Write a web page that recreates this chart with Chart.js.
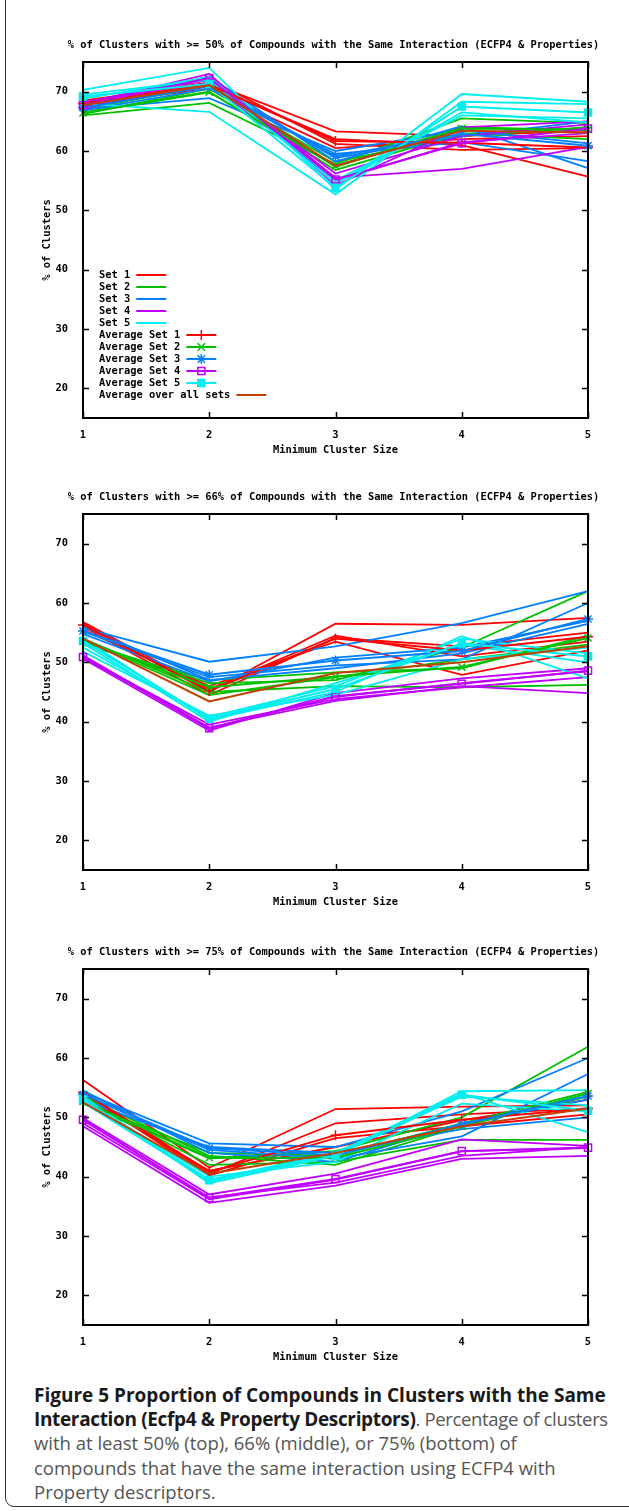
<!DOCTYPE html>
<html>
<head>
<meta charset="utf-8">
<script src="https://cdn.jsdelivr.net/npm/chart.js@4.4.1/dist/chart.umd.min.js"></script>
<style>
  body { margin: 0; background: #fff; width: 629px; height: 1511px; overflow: hidden; position: relative; }
  .frame { position: absolute; left: 5px; top: -30px; width: 700px; height: 1537px; border: 1.5px solid #333; border-radius: 9px; box-sizing: border-box; }
  .plot { position: absolute; left: 0; width: 629px; height: 458px; }
  #caption { position: absolute; left: 34px; top: 1383px; font-family: "Open Sans", Lato, sans-serif; font-size: 18.5px; line-height: 24.2px; color: #555; white-space: nowrap; }
  #caption b { color: #1a1a1a; font-size: 19px; }
  #caption .tight { letter-spacing: -0.35px; }
</style>
</head>
<body>
<div class="frame"></div>
<div class="plot" style="top:0px"><canvas id="c50" width="629" height="458"></canvas></div>
<div class="plot" style="top:452px"><canvas id="c66" width="629" height="458"></canvas></div>
<div class="plot" style="top:907px"><canvas id="c75" width="629" height="458"></canvas></div>
<div id="caption"><b>Figure 5 Proportion of Compounds in Clusters with the Same</b><br><span class="tight"><b>Interaction (Ecfp4 &amp; Property Descriptors)</b>. Percentage of clusters</span><br>with at least 50% (top), 66% (middle), or 75% (bottom) of<br>compounds that have the same interaction using ECFP4 with<br>Property descriptors.</div>

<script>
// x categories and y ticks
const clusterSizes = ["1", "2", "3", "4", "5"];
const yTicks = [20, 30, 40, 50, 60, 70];
const setNames = ["Set 1", "Set 2", "Set 3", "Set 4", "Set 5"];
const setColors = ["#ff0000", "#00c000", "#0080ff", "#c000ff", "#00eeee"];
const allColor = "#c04000";
const avgMarkers = ["cross", "crossRot", "star", "rect", "rect"];

// >= 50% : runs per set
const s50_set1 = [[68.5, 71.5, 63.3, 62.5, 63.5], [67.5, 71.0, 62.0, 61.0, 55.7], [68.0, 72.0, 61.2, 60.2, 60.5], [67.8, 70.5, 60.5, 62.0, 62.5]];
const s50_set2 = [[66.0, 68.1, 57.8, 65.5, 64.7], [66.5, 70.0, 56.8, 63.0, 62.0], [67.0, 71.0, 57.3, 64.0, 63.5], [66.2, 70.5, 58.2, 62.5, 64.0]];
const s50_set3 = [[67.0, 68.9, 60.0, 63.5, 61.3], [68.0, 72.5, 58.2, 64.2, 57.1], [66.8, 70.5, 59.5, 61.5, 58.3], [67.5, 71.5, 58.8, 62.5, 65.0]];
const s50_set4 = [[67.0, 72.5, 55.5, 57.0, 60.7], [68.0, 73.0, 54.2, 64.0, 65.0], [67.5, 71.5, 55.0, 61.5, 63.0], [68.2, 72.0, 56.2, 62.5, 64.5]];
const s50_set5 = [[70.3, 74.0, 53.5, 69.6, 68.3], [68.0, 66.6, 52.7, 68.3, 67.9], [69.5, 72.0, 54.5, 66.5, 64.8], [68.8, 72.5, 55.0, 66.0, 65.5]];
const s50_avg = [[68.0, 71.2, 61.7, 61.4, 60.6], [66.4, 69.9, 57.5, 63.8, 63.6], [67.3, 70.9, 59.1, 62.9, 60.9], [67.7, 72.3, 55.2, 61.3, 63.8], [69.2, 71.3, 53.8, 67.5, 66.5]];
const s50_all = [67.7, 71.1, 57.5, 63.4, 63.1];

// >= 66%
const s66_set1 = [[56.6, 45.0, 56.5, 56.3, 57.5], [56.0, 44.5, 54.1, 52.7, 55.0], [55.5, 46.0, 53.5, 47.9, 52.0], [56.8, 45.5, 54.5, 51.0, 53.5]];
const s66_set2 = [[53.5, 46.5, 47.0, 52.5, 62.0], [54.0, 45.0, 46.0, 45.8, 46.2], [53.0, 47.0, 48.3, 49.0, 54.5], [53.8, 44.5, 47.5, 50.5, 53.0]];
const s66_set3 = [[55.8, 50.1, 52.7, 56.6, 62.0], [55.2, 47.5, 49.5, 50.5, 60.0], [54.8, 46.8, 50.8, 52.5, 57.0], [56.0, 47.0, 49.0, 51.5, 56.5]];
const s66_set4 = [[51.0, 39.0, 43.5, 46.0, 44.8], [50.6, 38.5, 44.8, 47.3, 49.0], [50.8, 39.5, 43.8, 45.8, 47.5], [51.2, 38.8, 44.2, 46.5, 48.5]];
const s66_set5 = [[54.0, 40.3, 45.0, 54.4, 47.3], [52.5, 40.8, 46.0, 54.0, 51.5], [51.8, 41.0, 44.5, 50.5, 52.5], [53.2, 40.0, 46.5, 53.0, 50.0]];
const s66_avg = [[56.3, 45.2, 54.0, 52.0, 54.3], [53.6, 45.8, 47.6, 49.2, 54.1], [55.3, 47.9, 50.3, 51.9, 57.3], [50.9, 38.9, 44.3, 46.4, 48.6], [53.6, 40.5, 45.5, 53.2, 51.0]];
const s66_all = [54.0, 43.4, 48.2, 50.0, 52.7];

// >= 75%
const s75_set1 = [[56.3, 41.5, 51.4, 51.8, 52.0], [54.4, 40.5, 49.0, 50.5, 51.5], [54.0, 40.2, 46.5, 48.5, 50.5], [53.5, 41.0, 45.0, 49.5, 53.0]];
const s75_set2 = [[52.3, 43.1, 44.3, 50.0, 61.9], [53.0, 42.0, 42.5, 46.2, 46.2], [52.5, 44.0, 43.5, 49.0, 54.3], [53.5, 43.5, 42.0, 48.5, 53.5]];
const s75_set3 = [[54.2, 45.6, 45.0, 51.0, 60.0], [53.8, 44.5, 43.0, 46.8, 57.3], [53.0, 45.0, 44.0, 48.0, 50.0], [54.5, 44.0, 42.5, 49.0, 53.0]];
const s75_set4 = [[49.9, 37.0, 40.5, 46.3, 45.2], [49.0, 36.2, 39.5, 44.3, 44.8], [48.5, 35.6, 38.5, 43.0, 43.5], [49.5, 36.5, 39.0, 43.5, 45.0]];
const s75_set5 = [[53.5, 38.9, 43.5, 54.4, 54.6], [52.8, 39.5, 44.0, 54.0, 47.5], [53.0, 40.0, 42.5, 52.3, 51.0], [52.5, 39.2, 43.8, 53.5, 52.0]];
const s75_avg = [[54.2, 40.8, 47.0, 49.6, 51.5], [52.7, 43.2, 43.2, 48.5, 54.0], [53.9, 44.8, 43.6, 48.8, 53.6], [49.6, 36.4, 39.6, 44.3, 44.9], [53.0, 39.4, 43.5, 53.8, 51.1]];
const s75_all = [52.5, 40.5, 44.0, 48.5, 51.5];

const FONT = "'DejaVu Sans Mono', monospace";
const GFONT = { family: FONT, size: 10.4, weight: "bold" };

function drawMarker(ctx, style, x, y, r, color, fill) {
  ctx.save();
  ctx.strokeStyle = color;
  ctx.lineWidth = 1.5;
  ctx.beginPath();
  if (style === "cross" || style === "star") {
    ctx.moveTo(x - r, y); ctx.lineTo(x + r, y);
    ctx.moveTo(x, y - r); ctx.lineTo(x, y + r);
  }
  if (style === "crossRot" || style === "star") {
    const d = r * 0.75;
    ctx.moveTo(x - d, y - d); ctx.lineTo(x + d, y + d);
    ctx.moveTo(x - d, y + d); ctx.lineTo(x + d, y - d);
  }
  if (style === "rect") {
    const h = r * Math.SQRT1_2;
    if (fill && fill !== "rgba(0,0,0,0)") { ctx.fillStyle = fill; ctx.fillRect(x - h, y - h, 2 * h, 2 * h); }
    ctx.rect(x - h, y - h, 2 * h, 2 * h);
  }
  ctx.stroke();
  ctx.restore();
}

// gnuplot style border with inward ticks, plus the plot title
const gnuFrame = {
  id: "gnuFrame",
  afterDatasetsDraw(chart, args, opts) {
    const { ctx, chartArea: a, scales: { x, y } } = chart;
    ctx.save();
    ctx.strokeStyle = "#000";
    ctx.lineWidth = 2;
    ctx.strokeRect(a.left, a.top, a.right - a.left, a.bottom - a.top);
    ctx.lineWidth = 1.5;
    ctx.beginPath();
    yTicks.forEach(v => {
      const py = Math.round(y.getPixelForValue(v)) + 0.5;
      ctx.moveTo(a.left, py); ctx.lineTo(a.left + 6, py);
      ctx.moveTo(a.right, py); ctx.lineTo(a.right - 6, py);
    });
    clusterSizes.forEach((c, i) => {
      const px = Math.round(x.getPixelForValue(i)) + 0.5;
      ctx.moveTo(px, a.top); ctx.lineTo(px, a.top + 6);
      ctx.moveTo(px, a.bottom); ctx.lineTo(px, a.bottom - 6);
    });
    ctx.stroke();
    ctx.font = "bold 10.4px " + FONT;
    ctx.fillStyle = "#000";
    ctx.textAlign = "center";
    ctx.textBaseline = "middle";
    ctx.fillText(opts.text, (a.left + a.right) / 2 - 2, opts.y);
    ctx.restore();
  }
};

// key: text first, then sample line
const gnuKey = {
  id: "gnuKey",
  afterDraw(chart, args, opts) {
    if (!opts.show) return;
    const ctx = chart.ctx;
    ctx.save();
    ctx.font = "bold 10.4px " + FONT;
    ctx.textBaseline = "middle";
    let row = 0;
    chart.data.datasets.forEach(d => {
      if (!d.keyEntry) return;
      const ty = opts.y + row * opts.spacing;
      ctx.fillStyle = "#000";
      ctx.fillText(d.label, opts.x, ty);
      const x0 = opts.x + ctx.measureText(d.label).width + 6;
      ctx.strokeStyle = d.borderColor;
      ctx.lineWidth = 2;
      ctx.beginPath();
      ctx.moveTo(x0, ty); ctx.lineTo(x0 + 30, ty);
      ctx.stroke();
      if (d.pointRadius) drawMarker(ctx, d.pointStyle, x0 + 15, ty, d.pointRadius, d.borderColor, d.pointBackgroundColor);
      row++;
    });
    ctx.restore();
  }
};

function buildDatasets(runs, avgs, all) {
  const ds = [];
  runs.forEach((setRuns, s) => {
    setRuns.forEach((vals, k) => ds.push({
      label: setNames[s], keyEntry: k === 0, data: vals,
      borderColor: setColors[s], borderWidth: 1.8, pointRadius: 0
    }));
  });
  avgs.forEach((vals, s) => ds.push({
    label: "Average " + setNames[s], keyEntry: true, data: vals,
    borderColor: setColors[s], borderWidth: 2,
    pointStyle: avgMarkers[s], pointRadius: 5, pointBorderWidth: 1.5,
    pointBorderColor: setColors[s],
    pointBackgroundColor: s === 4 ? setColors[s] : "rgba(0,0,0,0)"
  }));
  ds.push({ label: "Average over all sets", keyEntry: true, data: all, borderColor: allColor, borderWidth: 2, pointRadius: 0 });
  ds.forEach((d, i) => { d.order = -i; d.tension = 0; d.fill = false; });
  return ds;
}

function makeChart(id, titleText, runs, avgs, all, showKey) {
  new Chart(document.getElementById(id), {
    type: "line",
    data: { labels: clusterSizes, datasets: buildDatasets(runs, avgs, all) },
    plugins: [gnuFrame, gnuKey],
    options: {
      responsive: false,
      animation: false,
      events: [],
      layout: { padding: { left: 0, right: 41, top: 62, bottom: 0 } },
      plugins: {
        legend: { display: false },
        tooltip: { enabled: false },
        title: { display: false },
        gnuFrame: { text: titleText, y: 45 },
        gnuKey: { show: showKey, x: 99, y: 275, spacing: 12 }
      },
      scales: {
        x: {
          grid: { display: false }, border: { display: false },
          ticks: { color: "#000", font: GFONT, padding: 3, maxRotation: 0 },
          title: { display: true, text: "Minimum Cluster Size", color: "#000", font: GFONT, padding: { top: 0, bottom: 1.8 } },
          afterFit(s) { s.height = 40; s.paddingLeft = 0; s.paddingRight = 0; }
        },
        y: {
          min: 15, max: 75,
          grid: { display: false }, border: { display: false },
          ticks: { color: "#000", font: GFONT, padding: 7 },
          title: { display: true, text: "% of Clusters", color: "#000", font: GFONT, padding: { top: 41, bottom: 0 } },
          afterBuildTicks(s) { s.ticks = yTicks.map(v => ({ value: v })); },
          afterFit(s) { s.width = 83; s.paddingTop = 0; s.paddingBottom = 0; }
        }
      }
    }
  });
}

makeChart("c50", "% of Clusters with >= 50% of Compounds with the Same Interaction (ECFP4 & Properties)",
  [s50_set1, s50_set2, s50_set3, s50_set4, s50_set5], s50_avg, s50_all, true);
makeChart("c66", "% of Clusters with >= 66% of Compounds with the Same Interaction (ECFP4 & Properties)",
  [s66_set1, s66_set2, s66_set3, s66_set4, s66_set5], s66_avg, s66_all, false);
makeChart("c75", "% of Clusters with >= 75% of Compounds with the Same Interaction (ECFP4 & Properties)",
  [s75_set1, s75_set2, s75_set3, s75_set4, s75_set5], s75_avg, s75_all, false);
</script>
</body>
</html>
